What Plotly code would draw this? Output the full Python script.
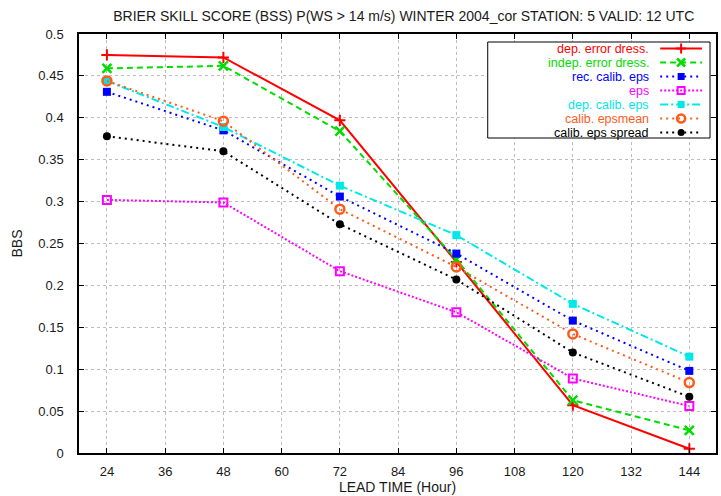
import plotly.graph_objects as go

# Lead times (hours) and Brier skill scores per forecast system
lead_hours = [24, 48, 72, 96, 120, 144]
dep_error_dress = [0.475, 0.472, 0.397, 0.228, 0.057, 0.005]
indep_error_dress = [0.459, 0.462, 0.384, 0.231, 0.063, 0.027]
rec_calib_eps = [0.431, 0.385, 0.306, 0.238, 0.158, 0.098]
eps = [0.302, 0.299, 0.217, 0.168, 0.089, 0.056]
dep_calib_eps = [0.444, 0.389, 0.319, 0.260, 0.178, 0.115]
calib_epsmean = [0.444, 0.396, 0.291, 0.222, 0.142, 0.084]
calib_eps_spread = [0.378, 0.360, 0.273, 0.207, 0.120, 0.067]

x_tick_vals = [24, 36, 48, 60, 72, 84, 96, 108, 120, 132, 144]
y_tick_vals = [0, 0.05, 0.1, 0.15, 0.2, 0.25, 0.3, 0.35, 0.4, 0.45, 0.5]
y_tick_text = ["0", "0.05", "0.1", "0.15", "0.2", "0.25", "0.3", "0.35", "0.4", "0.45", "0.5"]

series_names = ["dep. error dress.", "indep. error dress.", "rec. calib. eps", "eps",
                "dep. calib. eps", "calib. epsmean", "calib. eps spread"]
series_values = [dep_error_dress, indep_error_dress, rec_calib_eps, eps,
                 dep_calib_eps, calib_epsmean, calib_eps_spread]

# line / marker styling per series
styles = [
    dict(color="#ff0000", dash="solid", symbol="cross-thin-open", size=8, mlw=2),
    dict(color="#00dd00", dash="6px,4px", symbol="x-thin-open", size=9, mlw=2.5),
    dict(color="#0000ff", dash="2px,4px", symbol="square", size=8, mlw=0),
    dict(color="#ff00ff", dash="2px,2px", symbol="square-open", size=8, mlw=2),
    dict(color="#00e8e8", dash="8px,3px,2px,3px", symbol="square", size=8, mlw=0),
    dict(color="#ff5a1a", dash="2px,4px", symbol="circle-open", size=9, mlw=2.5),
    dict(color="#000000", dash="2px,4px", symbol="circle", size=8, mlw=0),
]

FONT = "Liberation Sans, Arial, sans-serif"
TEXT_COLOR = "#1a1a1a"

fig = go.Figure()

for name, vals, st in zip(series_names, series_values, styles):
    fig.add_trace(go.Scatter(
        x=lead_hours, y=vals, name=name, mode="lines+markers",
        line=dict(color=st["color"], width=2, dash=st["dash"]),
        marker=dict(symbol=st["symbol"], size=st["size"], color=st["color"],
                    line=dict(color=st["color"], width=st["mlw"])),
        showlegend=False, cliponaxis=False,
    ))

# Key box in the upper-right corner, drawn on an overlay axis in pixel-like units
key_left, key_right, key_top, key_bottom = 489, 712, 42, 138
row_y0, row_step = 48.5, 14.0
text_right, sample_x0, sample_x1 = 653, 662, 704

fig.add_trace(go.Scatter(
    x=[key_left, key_right, key_right, key_left, key_left],
    y=[key_top, key_top, key_bottom, key_bottom, key_top],
    xaxis="x2", yaxis="y2", mode="lines", fill="toself", fillcolor="white",
    line=dict(color="#000000", width=1), showlegend=False, hoverinfo="skip",
))

for i, (name, st) in enumerate(zip(series_names, styles)):
    ry = row_y0 + i * row_step
    fig.add_trace(go.Scatter(
        x=[sample_x0, (sample_x0 + sample_x1) / 2, sample_x1], y=[ry, ry, ry],
        xaxis="x2", yaxis="y2", mode="lines",
        line=dict(color=st["color"], width=2, dash=st["dash"]),
        showlegend=False, hoverinfo="skip",
    ))
    fig.add_trace(go.Scatter(
        x=[(sample_x0 + sample_x1) / 2], y=[ry],
        xaxis="x2", yaxis="y2", mode="markers",
        marker=dict(symbol=st["symbol"], size=st["size"] - 1, color=st["color"],
                    line=dict(color=st["color"], width=st["mlw"])),
        showlegend=False, hoverinfo="skip",
    ))
    fig.add_annotation(x=text_right, y=ry, xref="x2", yref="y2", text=name,
                       showarrow=False, xanchor="right", yanchor="middle",
                       font=dict(family=FONT, size=12.5, color=st["color"]))

axis_common = dict(
    showline=True, linecolor="#000000", linewidth=1.5, mirror="allticks",
    ticks="inside", ticklen=5, tickcolor="#000000", tickwidth=1,
    showgrid=True, gridcolor="#bdbdbd", griddash="dot", gridwidth=1,
    zeroline=False, tickfont=dict(family=FONT, size=13, color=TEXT_COLOR),
)

fig.update_layout(
    width=721, height=496,
    margin=dict(l=79, r=3, t=34, b=43),
    paper_bgcolor="white", plot_bgcolor="white",
    title=dict(text="BRIER SKILL SCORE (BSS) P(WS > 14 m/s) WINTER 2004_cor STATION: 5 VALID: 12 UTC",
               x=0.56, xanchor="center", y=0.968, yanchor="middle",
               font=dict(family=FONT, size=14, color=TEXT_COLOR)),
    xaxis=dict(axis_common, range=[18.25, 149.5], tickvals=x_tick_vals,
               ticklabelstandoff=6,
               title=dict(text="LEAD TIME (Hour)", standoff=3,
                          font=dict(family=FONT, size=14, color=TEXT_COLOR))),
    yaxis=dict(axis_common, range=[0, 0.5], tickvals=y_tick_vals, ticktext=y_tick_text,
               ticklabelstandoff=11,
               title=dict(text="BBS", standoff=12,
                          font=dict(family=FONT, size=14, color=TEXT_COLOR))),
    xaxis2=dict(overlaying="x", range=[79, 718], visible=False, domain=[0, 1]),
    yaxis2=dict(overlaying="y", range=[453, 34], visible=False),
)

fig.write_html("out.html")
